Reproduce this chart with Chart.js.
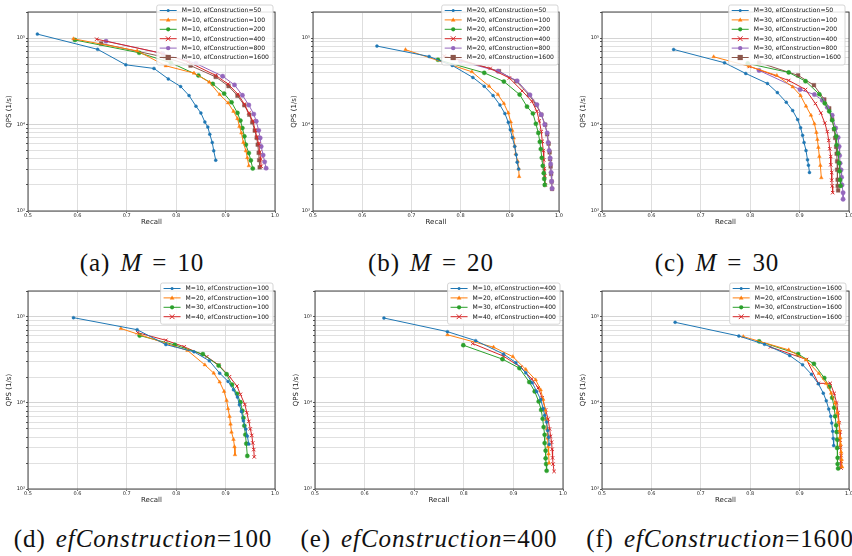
<!DOCTYPE html>
<html>
<head>
<meta charset="utf-8">
<script src="https://cdn.jsdelivr.net/npm/chart.js@4.4.0/dist/chart.umd.min.js"></script>
<style>
  body { margin: 0; width: 852px; height: 556px; background: #fff; position: relative; overflow: hidden; }
  canvas { position: absolute; }
  .cap { position: absolute; font-family: "Liberation Serif", "DejaVu Serif", serif; font-size: 25px;
         white-space: nowrap; color: #111; transform: translateX(-50%); line-height: 1;
         letter-spacing: 0.9px; word-spacing: 3px; }
  .cap i { font-style: italic; }
</style>
</head>
<body>
<script>
// ---- axis ticks ----
const recallTicks = [0.5, 0.6, 0.7, 0.8, 0.9, 1.0];
const recallTickLabels = ['0.5', '0.6', '0.7', '0.8', '0.9', '1.0'];
const qpsGridValues = [1e3, 2e3, 3e3, 4e3, 5e3, 6e3, 7e3, 8e3, 9e3,
                       1e4, 2e4, 3e4, 4e4, 5e4, 6e4, 7e4, 8e4, 9e4, 1e5, 2e5];
const qpsTickLabels = { 1000: '10\u00b3', 10000: '10\u2074', 100000: '10\u2075' };

// ---- M = 10 ----
const recall_M10_ef50   = [0.519, 0.641, 0.698, 0.755, 0.784, 0.809, 0.826, 0.840, 0.850, 0.858, 0.864, 0.868, 0.873, 0.876, 0.880];
const qps_M10_ef50      = [111000, 74000, 49000, 44500, 33700, 27500, 21600, 16300, 13600, 10700, 9350, 7700, 6200, 4970, 3870];
const recall_M10_ef100  = [0.592, 0.721, 0.779, 0.836, 0.867, 0.888, 0.905, 0.916, 0.924, 0.928, 0.932, 0.936, 0.941, 0.944, 0.947];
const qps_M10_ef100     = [98000, 71000, 47700, 39300, 30900, 22200, 17800, 14200, 11700, 9500, 7970, 6200, 4970, 4120, 3330];
const recall_M10_ef200  = [0.595, 0.725, 0.789, 0.845, 0.874, 0.897, 0.912, 0.924, 0.930, 0.934, 0.938, 0.941, 0.947, 0.951, 0.955];
const qps_M10_ef200     = [95000, 67600, 51800, 36900, 29500, 22800, 18100, 13600, 11100, 9100, 7300, 5840, 4670, 3840, 3100];
const recall_M10_ef400  = [0.639, 0.767, 0.824, 0.880, 0.905, 0.925, 0.938, 0.947, 0.955, 0.960, 0.963, 0.967, 0.969, 0.971, 0.972];
const qps_M10_ef400     = [97000, 67400, 53000, 37000, 29400, 22400, 17200, 13600, 11000, 8600, 7200, 6000, 4800, 4000, 3300];
const recall_M10_ef800  = [0.658, 0.773, 0.840, 0.894, 0.918, 0.934, 0.947, 0.957, 0.962, 0.967, 0.970, 0.972, 0.976, 0.979, 0.982];
const qps_M10_ef800     = [92000, 66000, 50800, 36200, 28700, 21800, 16800, 13200, 10900, 8560, 7000, 5580, 4430, 3700, 3130];
const recall_M10_ef1600 = [0.648, 0.777, 0.829, 0.880, 0.906, 0.924, 0.938, 0.948, 0.954, 0.959, 0.963, 0.965, 0.967, 0.968, 0.969];
const qps_M10_ef1600    = [86500, 60000, 48000, 35500, 27800, 21500, 16700, 13000, 10600, 8500, 7000, 5850, 4700, 3870, 3200];

// ---- M = 20 ----
const recall_M20_ef50   = [0.630, 0.736, 0.783, 0.825, 0.848, 0.866, 0.880, 0.890, 0.897, 0.901, 0.905, 0.910, 0.913, 0.915, 0.918];
const qps_M20_ef50      = [80700, 61200, 48200, 35000, 27700, 21600, 16800, 13400, 10600, 8700, 7100, 5580, 4470, 3670, 3050];
const recall_M20_ef100  = [0.688, 0.823, 0.858, 0.876, 0.888, 0.897, 0.902, 0.905, 0.908, 0.910, 0.912, 0.916, 0.918, 0.919];
const qps_M20_ef100     = [73300, 40700, 27700, 22200, 17500, 13600, 10700, 8550, 6970, 5680, 4580, 3770, 3100, 2500];
const recall_M20_ef200  = [0.754, 0.848, 0.888, 0.920, 0.935, 0.947, 0.953, 0.958, 0.961, 0.963, 0.965, 0.967, 0.969, 0.970, 0.971];
const qps_M20_ef200     = [56100, 39600, 31400, 22200, 16100, 13400, 10200, 8000, 6300, 5200, 4120, 3330, 2740, 2350, 2000];
const recall_M20_ef400  = [0.767, 0.860, 0.899, 0.925, 0.945, 0.955, 0.960, 0.964, 0.966, 0.968, 0.969, 0.970, 0.971, 0.972];
const qps_M20_ef400     = [62000, 44500, 34500, 24500, 18500, 14200, 11000, 8300, 6400, 5000, 3900, 3100, 2550, 2000];
const recall_M20_ef800  = [0.800, 0.876, 0.915, 0.941, 0.955, 0.964, 0.971, 0.976, 0.978, 0.980, 0.982, 0.983, 0.984, 0.985, 0.986];
const qps_M20_ef800     = [54000, 41400, 32000, 22000, 17000, 13000, 10000, 8000, 6200, 5000, 4100, 3500, 2800, 2200, 1820];
const recall_M20_ef1600 = [0.786, 0.878, 0.913, 0.939, 0.954, 0.964, 0.972, 0.976, 0.979, 0.981, 0.982, 0.983, 0.984, 0.985, 0.986];
const qps_M20_ef1600    = [59000, 41400, 31700, 22000, 16800, 13000, 9950, 7700, 6000, 4760, 3980, 3270, 2690, 2190, 1800];

// ---- M = 30 ----
const recall_M30_ef50   = [0.645, 0.748, 0.791, 0.835, 0.855, 0.873, 0.886, 0.896, 0.902, 0.906, 0.909, 0.913, 0.916, 0.918, 0.920];
const qps_M30_ef50      = [73800, 51800, 38900, 29800, 23400, 18100, 14500, 11400, 9200, 7500, 6200, 5000, 3910, 3390, 2790];
const recall_M30_ef100  = [0.726, 0.797, 0.854, 0.886, 0.902, 0.913, 0.923, 0.930, 0.934, 0.936, 0.938, 0.940, 0.942, 0.944];
const qps_M30_ef100     = [60700, 47300, 36900, 27200, 21600, 16300, 12800, 10200, 8100, 6700, 5430, 4270, 3360, 2420];
const recall_M30_ef200  = [0.795, 0.878, 0.912, 0.940, 0.951, 0.960, 0.966, 0.970, 0.974, 0.975, 0.978, 0.980, 0.981, 0.982, 0.983];
const qps_M30_ef200     = [50800, 40000, 31700, 22400, 17600, 14200, 11200, 8900, 7300, 5800, 4630, 3600, 2880, 2290, 1950];
const recall_M30_ef400  = [0.799, 0.878, 0.912, 0.932, 0.943, 0.951, 0.956, 0.959, 0.961, 0.963, 0.963, 0.965, 0.965, 0.966, 0.967];
const qps_M30_ef400     = [46900, 32300, 25400, 17500, 13600, 10400, 8300, 6550, 5240, 4270, 3420, 2790, 2270, 1950, 1630];
const recall_M30_ef800  = [0.818, 0.901, 0.930, 0.946, 0.956, 0.966, 0.973, 0.978, 0.980, 0.981, 0.982, 0.984, 0.985, 0.986, 0.988, 0.988];
const qps_M30_ef800     = [42200, 25400, 22200, 19100, 15800, 12800, 9100, 7100, 5580, 4390, 3570, 2990, 2460, 2000, 1630, 1370];
const recall_M30_ef1600 = [0.818, 0.897, 0.929, 0.950, 0.960, 0.966, 0.970, 0.972, 0.974, 0.975, 0.976, 0.976, 0.977, 0.977, 0.978];
const qps_M30_ef1600    = [52000, 37000, 28500, 19500, 15400, 11500, 8800, 7000, 5500, 4600, 3750, 3000, 2300, 1950, 1730];

// ---- M = 40 ----
const recall_M40_ef100  = [0.722, 0.779, 0.816, 0.862, 0.886, 0.908, 0.923, 0.930, 0.939, 0.943, 0.947, 0.950, 0.953, 0.955, 0.957, 0.958];
const qps_M40_ef100     = [65600, 53500, 45000, 34500, 27600, 20200, 15700, 12600, 9600, 7700, 6100, 5000, 4200, 3430, 2870, 2360];
const recall_M40_ef400  = [0.818, 0.880, 0.915, 0.937, 0.950, 0.958, 0.965, 0.970, 0.973, 0.975, 0.977, 0.978, 0.979, 0.980, 0.982];
const qps_M40_ef400     = [49000, 35000, 26000, 19000, 15000, 11500, 8300, 6500, 5000, 4100, 3500, 2900, 2300, 1950, 1600];
const recall_M40_ef1600 = [0.841, 0.914, 0.938, 0.962, 0.970, 0.975, 0.978, 0.980, 0.982, 0.982, 0.983, 0.984, 0.984, 0.984];
const qps_M40_ef1600    = [44700, 32000, 16900, 16900, 12900, 10000, 7700, 5900, 4600, 3700, 3050, 2450, 2100, 1750];

// ---- styling ----
const TAB = ['#1f77b4', '#ff7f0e', '#2ca02c', '#d62728', '#9467bd', '#8c564b'];
const MARK = [['circle', 1.5], ['triangle', 2.1], ['circle', 2.1], ['crossRot', 2.4], ['circle', 2.2], ['rect', 2.6]];
const FONT = 'DejaVu Sans';

// each entry: label, recall array, qps array, style slot
const panels = [
  { plot: [28, 275, 12, 211], legend: [273, 5], caption: ['(a) ', 'M', ' = 10'], capX: 142, capY: 250,
    series: [
      ['M=10, efConstruction=50', recall_M10_ef50, qps_M10_ef50, 0],
      ['M=10, efConstruction=100', recall_M10_ef100, qps_M10_ef100, 1],
      ['M=10, efConstruction=200', recall_M10_ef200, qps_M10_ef200, 2],
      ['M=10, efConstruction=400', recall_M10_ef400, qps_M10_ef400, 3],
      ['M=10, efConstruction=800', recall_M10_ef800, qps_M10_ef800, 4],
      ['M=10, efConstruction=1600', recall_M10_ef1600, qps_M10_ef1600, 5]] },
  { plot: [313, 559, 12, 211], legend: [558, 5], caption: ['(b) ', 'M', ' = 20'], capX: 431, capY: 250,
    series: [
      ['M=20, efConstruction=50', recall_M20_ef50, qps_M20_ef50, 0],
      ['M=20, efConstruction=100', recall_M20_ef100, qps_M20_ef100, 1],
      ['M=20, efConstruction=200', recall_M20_ef200, qps_M20_ef200, 2],
      ['M=20, efConstruction=400', recall_M20_ef400, qps_M20_ef400, 3],
      ['M=20, efConstruction=800', recall_M20_ef800, qps_M20_ef800, 4],
      ['M=20, efConstruction=1600', recall_M20_ef1600, qps_M20_ef1600, 5]] },
  { plot: [602, 849, 12, 211], legend: [845, 5], caption: ['(c) ', 'M', ' = 30'], capX: 717, capY: 250,
    series: [
      ['M=30, efConstruction=50', recall_M30_ef50, qps_M30_ef50, 0],
      ['M=30, efConstruction=100', recall_M30_ef100, qps_M30_ef100, 1],
      ['M=30, efConstruction=200', recall_M30_ef200, qps_M30_ef200, 2],
      ['M=30, efConstruction=400', recall_M30_ef400, qps_M30_ef400, 3],
      ['M=30, efConstruction=800', recall_M30_ef800, qps_M30_ef800, 4],
      ['M=30, efConstruction=1600', recall_M30_ef1600, qps_M30_ef1600, 5]] },
  { plot: [28, 275, 291, 489], legend: [273, 283], caption: ['(d) ', 'efConstruction', '=100'], capX: 143, capY: 526,
    series: [
      ['M=10, efConstruction=100', recall_M10_ef100, qps_M10_ef100, 0],
      ['M=20, efConstruction=100', recall_M20_ef100, qps_M20_ef100, 1],
      ['M=30, efConstruction=100', recall_M30_ef100, qps_M30_ef100, 2],
      ['M=40, efConstruction=100', recall_M40_ef100, qps_M40_ef100, 3]] },
  { plot: [315, 563, 291, 489], legend: [560, 283], caption: ['(e) ', 'efConstruction', '=400'], capX: 429, capY: 526,
    series: [
      ['M=10, efConstruction=400', recall_M10_ef400, qps_M10_ef400, 0],
      ['M=20, efConstruction=400', recall_M20_ef400, qps_M20_ef400, 1],
      ['M=30, efConstruction=400', recall_M30_ef400, qps_M30_ef400, 2],
      ['M=40, efConstruction=400', recall_M40_ef400, qps_M40_ef400, 3]] },
  { plot: [602, 849, 291, 489], legend: [846, 283], caption: ['(f) ', 'efConstruction', '=1600'], capX: 720, capY: 526,
    series: [
      ['M=10, efConstruction=1600', recall_M10_ef1600, qps_M10_ef1600, 0],
      ['M=20, efConstruction=1600', recall_M20_ef1600, qps_M20_ef1600, 1],
      ['M=30, efConstruction=1600', recall_M30_ef1600, qps_M30_ef1600, 2],
      ['M=40, efConstruction=1600', recall_M40_ef1600, qps_M40_ef1600, 3]] }
];

const Y_AXIS_W = 23, X_AXIS_H = 15, PAD_TOP = 12, PAD_RIGHT = 6;

function drawMarker(ctx, style, r, x, y, color) {
  ctx.fillStyle = color; ctx.strokeStyle = color; ctx.lineWidth = 1;
  ctx.beginPath();
  if (style === 'circle') { ctx.arc(x, y, r, 0, Math.PI * 2); ctx.fill(); }
  else if (style === 'rect') { ctx.fillRect(x - r, y - r, 2 * r, 2 * r); }
  else if (style === 'triangle') {
    ctx.moveTo(x, y - r * 1.2); ctx.lineTo(x + r * 1.1, y + r * 0.8); ctx.lineTo(x - r * 1.1, y + r * 0.8);
    ctx.closePath(); ctx.fill();
  } else if (style === 'crossRot') {
    ctx.moveTo(x - r, y - r); ctx.lineTo(x + r, y + r); ctx.moveTo(x + r, y - r); ctx.lineTo(x - r, y + r); ctx.stroke();
  }
}

// frame around the axes plus a boxed legend in the upper right
const axesDecor = {
  id: 'axesDecor',
  afterDraw(chart, args, opts) {
    const { ctx, chartArea: a } = chart;
    ctx.save();
    ctx.strokeStyle = '#333'; ctx.lineWidth = 0.9;
    ctx.strokeRect(a.left, a.top, a.right - a.left, a.bottom - a.top);

    const items = chart.data.datasets;
    ctx.font = '6.1px "' + FONT + '"';
    let tw = 0;
    items.forEach(d => { tw = Math.max(tw, ctx.measureText(d.label).width); });
    const w = 25 + tw + 4, step = 9.4, h = items.length * step + 3.6;
    const x0 = opts.right - w, y0 = opts.top;
    ctx.fillStyle = 'rgba(255,255,255,0.85)';
    ctx.strokeStyle = '#cccccc'; ctx.lineWidth = 0.8;
    ctx.beginPath();
    ctx.roundRect(x0, y0, w, h, 2);
    ctx.fill(); ctx.stroke();
    items.forEach((d, i) => {
      const cy = y0 + 5.5 + i * step;
      ctx.strokeStyle = d.borderColor; ctx.lineWidth = 1;
      ctx.beginPath(); ctx.moveTo(x0 + 3, cy); ctx.lineTo(x0 + 20, cy); ctx.stroke();
      drawMarker(ctx, d.pointStyle, d.pointRadius, x0 + 11.5, cy, d.borderColor);
      ctx.fillStyle = '#111'; ctx.textBaseline = 'middle'; ctx.textAlign = 'left';
      ctx.fillText(d.label, x0 + 25, cy + 0.3);
    });
    ctx.restore();
  }
};

panels.forEach(p => {
  const [l, r, t, b] = p.plot;
  const cl = l - Y_AXIS_W, ct = t - PAD_TOP;
  const cw = (r - l) + Y_AXIS_W + PAD_RIGHT, ch = (b - t) + PAD_TOP + X_AXIS_H;
  const cv = document.createElement('canvas');
  cv.width = cw; cv.height = ch;
  cv.style.left = cl + 'px'; cv.style.top = ct + 'px';
  cv.style.width = cw + 'px'; cv.style.height = ch + 'px';
  document.body.appendChild(cv);

  const datasets = p.series.map(([label, xs, ys, k]) => ({
    label,
    data: xs.map((x, i) => ({ x, y: ys[i] })),
    borderColor: TAB[k], backgroundColor: TAB[k],
    borderWidth: 1, showLine: true, fill: false, tension: 0,
    pointStyle: MARK[k][0], pointRadius: MARK[k][1], pointBorderWidth: MARK[k][0] === 'crossRot' ? 1 : 0.4,
    pointHoverRadius: MARK[k][1]
  }));

  new Chart(cv, {
    type: 'scatter',
    data: { datasets },
    plugins: [axesDecor],
    options: {
      responsive: false, animation: false, devicePixelRatio: 1,
      layout: { padding: { top: PAD_TOP, right: PAD_RIGHT, left: 0, bottom: 0 } },
      plugins: { legend: { display: false }, tooltip: { enabled: false },
                 axesDecor: { right: p.legend[0] - cl, top: p.legend[1] - ct } },
      scales: {
        x: {
          type: 'linear', min: 0.5, max: 1.0,
          afterBuildTicks: s => { s.ticks = recallTicks.map(v => ({ value: v })); },
          afterFit: s => { s.height = X_AXIS_H; },
          ticks: { font: { family: FONT, size: 5, lineHeight: 1 }, color: '#222', padding: 0, maxRotation: 0,
                   autoSkip: false, callback: (v, i) => recallTickLabels[i] },
          grid: { color: '#d6d6d6', lineWidth: 0.8, tickLength: 2, tickColor: '#444' },
          border: { display: false },
          title: { display: true, text: 'Recall', font: { family: FONT, size: 7 }, color: '#222', padding: 0 }
        },
        y: {
          type: 'logarithmic', min: 1000, max: 200000,
          afterBuildTicks: s => { s.ticks = qpsGridValues.map(v => ({ value: v, major: !!qpsTickLabels[v] })); },
          afterFit: s => { s.width = Y_AXIS_W; },
          ticks: { font: { family: FONT, size: 5, lineHeight: 1 }, color: '#222', padding: 1, autoSkip: false,
                   callback: v => qpsTickLabels[v] || '' },
          grid: { color: ctx => (qpsTickLabels[ctx.tick && ctx.tick.value] ? '#cfcfcf' : '#dcdcdc'),
                  lineWidth: 0.9, tickLength: 2, tickColor: '#444' },
          border: { display: false },
          title: { display: true, text: 'QPS (1/s)', font: { family: FONT, size: 7 }, color: '#222', padding: 0 }
        }
      }
    }
  });

  const cap = document.createElement('div');
  cap.className = 'cap';
  cap.style.left = p.capX + 'px'; cap.style.top = p.capY + 'px';
  cap.innerHTML = p.caption[0] + '<i>' + p.caption[1] + '</i>' + p.caption[2];
  document.body.appendChild(cap);
});
</script>
</body>
</html>
